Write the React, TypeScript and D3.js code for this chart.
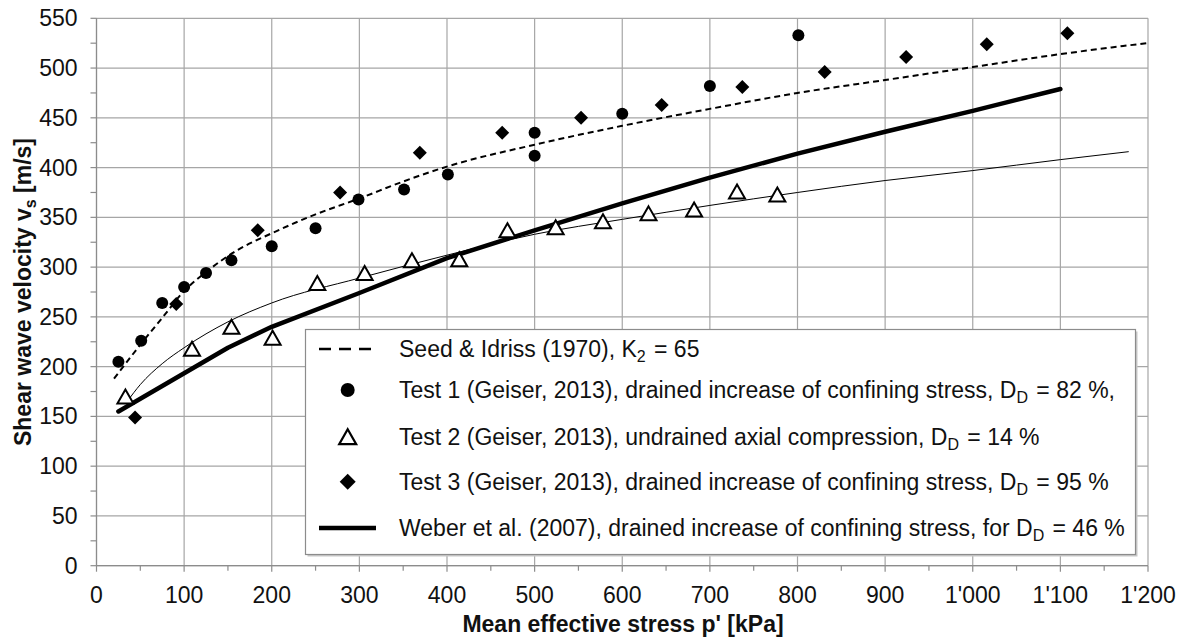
import React from "react";
import * as d3 from "d3";

// ---------- data ----------
const xTicks = [0, 100, 200, 300, 400, 500, 600, 700, 800, 900, 1000, 1100, 1200];
const xTickLabels = ["0", "100", "200", "300", "400", "500", "600", "700", "800", "900", "1'000", "1'100", "1'200"];
const yTicks = [0, 50, 100, 150, 200, 250, 300, 350, 400, 450, 500, 550];

// Test 1 (circles)
const test1P = [25, 51, 75, 100, 125, 154, 200, 250, 299, 351, 401, 500, 500, 600, 700, 801];
const test1V = [205, 226, 264, 280, 294, 307, 321, 339, 368, 378, 393, 412, 435, 454, 482, 533];
// Test 2 (open triangles)
const test2P = [33, 109, 154, 201, 252, 306, 360, 414, 469, 524, 578, 630, 682, 731, 777];
const test2V = [170, 218, 240, 229, 284, 294, 307, 308, 337, 340, 346, 354, 358, 376, 373];
// Test 3 (diamonds)
const test3P = [44, 91, 184, 278, 369, 463, 553, 645, 737, 831, 924, 1016, 1108];
const test3V = [149, 263, 337, 375, 415, 435, 450, 463, 481, 496, 511, 524, 535];
// Seed & Idriss (dashed)
const seedP = [20, 50, 75, 100, 125, 155, 200, 250, 300, 350, 400, 500, 600, 700, 800, 900, 1000, 1100, 1198];
const seedV = [188, 222, 249, 276, 295, 314, 334, 353, 369, 386, 401, 423, 442, 459, 475, 488, 501, 514, 525];
// Test 2 fit (thin)
const fit2P = [35, 50, 75, 100, 150, 200, 300, 400, 500, 600, 700, 800, 900, 1000, 1100, 1178];
const fit2V = [165, 182, 203, 219, 245, 264, 289, 312, 333, 348, 362, 375, 387, 397, 408, 416];
// Weber et al. (thick)
const weberP = [25, 150, 200, 300, 400, 500, 600, 700, 800, 900, 1000, 1100];
const weberV = [155, 219, 240, 274, 309, 337, 364, 390, 414, 436, 457, 479];

const FONT = "'Liberation Sans', Arial, Helvetica, sans-serif";

const W = 1184;
const H = 639;
const x = d3.scaleLinear().domain([0, 1200]).range([96.5, 1148]);
const y = d3.scaleLinear().domain([0, 550]).range([565.7, 18.3]);

const zip = (a: number[], b: number[]) => a.map((v, i) => [v, b[i]] as [number, number]);

const lineMono = d3
  .line<[number, number]>()
  .x((d) => x(d[0]))
  .y((d) => y(d[1]))
  .curve(d3.curveMonotoneX);
const lineLin = d3
  .line<[number, number]>()
  .x((d) => x(d[0]))
  .y((d) => y(d[1]));

const diamond = (cx: number, cy: number, r: number) =>
  `M${cx},${cy - r}L${cx + r},${cy}L${cx},${cy + r}L${cx - r},${cy}Z`;
const triangle = (cx: number, cy: number, w: number, h: number) =>
  `M${cx},${cy - h / 2}L${cx + w / 2},${cy + h / 2}L${cx - w / 2},${cy + h / 2}Z`;

const Sub = ({ t }: { t: string }) => (
  <>
    <tspan fontSize={16} dy={5}>{t}</tspan>
    <tspan dy={-5}>{"\u200A"}</tspan>
  </>
);

export default function App() {
  const minorX = d3.range(50, 1200, 100);
  const minorY = d3.range(25, 550, 50);
  const legendX = 305.5;
  const legendY = 329.5;
  const legendW = 830;
  const legendH = 225;
  const symX = 347.7;
  const textX = 399;
  const rows = [349, 390, 436.7, 481.7, 528];
  const fs = 23;

  return (
    <svg width={W} height={H} style={{ position: "absolute", left: 0, top: 0, background: "#fff" }} fontFamily={FONT}>
      <rect x={0} y={0} width={W} height={H} fill="#fff" />
      {/* grid */}
      {xTicks.map((t) => (
        <line key={"gx" + t} x1={x(t)} x2={x(t)} y1={y(0)} y2={y(550)} stroke="#a6a6a6" strokeWidth={1.2} />
      ))}
      {yTicks.map((t) => (
        <line key={"gy" + t} x1={x(0)} x2={x(1200)} y1={y(t)} y2={y(t)} stroke="#a6a6a6" strokeWidth={1.2} />
      ))}
      {/* axes ticks */}
      {xTicks.map((t) => (
        <line key={"tx" + t} x1={x(t)} x2={x(t)} y1={y(0)} y2={y(0) + 6} stroke="#8c8c8c" strokeWidth={1.2} />
      ))}
      {minorX.map((t) => (
        <line key={"mx" + t} x1={x(t)} x2={x(t)} y1={y(0)} y2={y(0) + 5} stroke="#8c8c8c" strokeWidth={1.2} />
      ))}
      {yTicks.map((t) => (
        <line key={"ty" + t} x1={x(0) - 6} x2={x(0)} y1={y(t)} y2={y(t)} stroke="#8c8c8c" strokeWidth={1.2} />
      ))}
      {minorY.map((t) => (
        <line key={"my" + t} x1={x(0) - 6} x2={x(0)} y1={y(t)} y2={y(t)} stroke="#8c8c8c" strokeWidth={1.2} />
      ))}
      <line x1={x(0)} x2={x(0)} y1={y(0)} y2={y(550)} stroke="#8c8c8c" strokeWidth={1.2} />
      <line x1={x(0)} x2={x(1200)} y1={y(0)} y2={y(0)} stroke="#8c8c8c" strokeWidth={1.2} />

      {/* tick labels */}
      {xTicks.map((t, i) => (
        <text key={"lx" + t} x={x(t)} y={603} textAnchor="middle" fontSize={fs} fill="#111">
          {xTickLabels[i]}
        </text>
      ))}
      {yTicks.map((t) => (
        <text key={"ly" + t} x={77.5} y={y(t) + 8} textAnchor="end" fontSize={fs} fill="#111">
          {t}
        </text>
      ))}

      {/* axis titles */}
      <text x={623} y={632} textAnchor="middle" fontSize={fs} fontWeight="bold" fill="#111">
        Mean effective stress p' [kPa]
      </text>
      <text transform={`translate(31,${292}) rotate(-90)`} textAnchor="middle" fontSize={fs} fontWeight="bold" fill="#111">
        Shear wave velocity v<tspan fontSize={16} dy={5}>s</tspan>
        <tspan dy={-5}> [m/s]</tspan>
      </text>

      {/* curves */}
      <path d={lineMono(zip(seedP, seedV)) || ""} fill="none" stroke="#000" strokeWidth={2} strokeDasharray="6,4" />
      <path d={lineMono(zip(fit2P, fit2V)) || ""} fill="none" stroke="#000" strokeWidth={1} />
      <path d={lineLin(zip(weberP, weberV)) || ""} fill="none" stroke="#000" strokeWidth={4.5} strokeLinecap="round" strokeLinejoin="round" />

      {/* markers */}
      {test1P.map((p, i) => (
        <circle key={"c" + i} cx={x(p)} cy={y(test1V[i])} r={6} fill="#000" />
      ))}
      {test3P.map((p, i) => (
        <path key={"d" + i} d={diamond(x(p), y(test3V[i]), 7)} fill="#000" />
      ))}
      {test2P.map((p, i) => (
        <path key={"t" + i} d={triangle(x(p), y(test2V[i]), 16, 14)} fill="#fff" stroke="#000" strokeWidth={2} strokeLinejoin="miter" />
      ))}

      {/* legend */}
      <rect x={legendX + 2} y={legendY + 2} width={legendW} height={legendH} fill="#c8c8c8" />
      <rect x={legendX} y={legendY} width={legendW} height={legendH} fill="#fff" stroke="#8c8c8c" strokeWidth={1.2} />
      <line x1={319} x2={372} y1={rows[0]} y2={rows[0]} stroke="#000" strokeWidth={2.5} strokeDasharray="12,8" />
      <circle cx={symX} cy={rows[1]} r={7} fill="#000" />
      <path d={triangle(symX, rows[2], 17, 15)} fill="#fff" stroke="#000" strokeWidth={2.2} />
      <path d={diamond(symX, rows[3], 8)} fill="#000" />
      <line x1={319} x2={376} y1={rows[4]} y2={rows[4]} stroke="#000" strokeWidth={4.5} />

      <text x={textX} y={rows[0] + 8} fontSize={fs} fill="#111">
        Seed &amp; Idriss (1970), K<Sub t="2" /> = 65
      </text>
      <text x={textX} y={rows[1] + 8} fontSize={fs} fill="#111">
        Test 1 (Geiser, 2013), drained increase of confining stress, D<Sub t="D" /> = 82 %,
      </text>
      <text x={textX} y={rows[2] + 8} fontSize={fs} fill="#111">
        Test 2 (Geiser, 2013), undrained axial compression, D<Sub t="D" /> = 14 %
      </text>
      <text x={textX} y={rows[3] + 8} fontSize={fs} fill="#111">
        Test 3 (Geiser, 2013), drained increase of confining stress, D<Sub t="D" /> = 95 %
      </text>
      <text x={textX} y={rows[4] + 8} fontSize={fs} fill="#111">
        Weber et al. (2007), drained increase of confining stress, for D<Sub t="D" /> = 46 %
      </text>
    </svg>
  );
}
